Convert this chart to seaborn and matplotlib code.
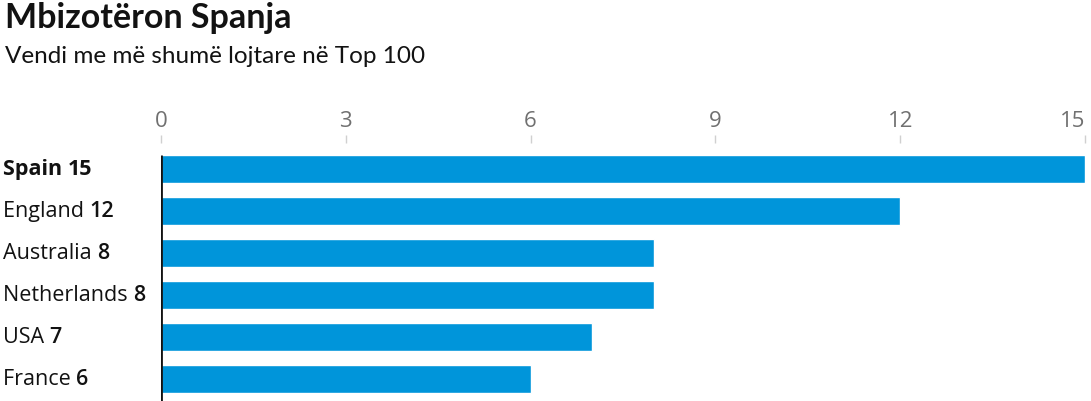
import matplotlib
matplotlib.use("Agg")
import matplotlib.pyplot as plt
import matplotlib.transforms as mtransforms
import seaborn as sns
import pandas as pd

countries = ["Spain", "England", "Australia", "Netherlands", "USA", "France"]
players = [15, 12, 8, 8, 7, 6]
xticks = [0, 3, 6, 9, 12, 15]

df = pd.DataFrame({"country": countries, "players": players})

sns.set_theme(style="white")
plt.rcParams["font.family"] = ["Open Sans", "DejaVu Sans"]

fig = plt.figure(figsize=(10.91, 4.01), dpi=100)
ax = fig.add_axes([161 / 1091, 0.0, (1085 - 161) / 1091, 1 - 143 / 401])

sns.barplot(data=df, x="players", y="country", orient="h", color="#0095da",
            width=0.65, saturation=1, ax=ax)

ax.set_xlim(0, 15)
ax.set_ylim(5.52, -0.62)
ax.xaxis.tick_top()
ax.set_xticks(xticks)
labels = ax.set_xticklabels([str(t) for t in xticks], fontsize=16, color="#707070")
labels[-1].set_horizontalalignment("right")
ax.tick_params(axis="x", length=6, width=1, color="#d0d0d0", pad=2, top=True, bottom=False)
ax.set_xlabel("")
ax.set_ylabel("")
ax.set_yticks([])
for s in ax.spines.values():
    s.set_visible(False)
ax.vlines(0, -0.33, 5.52, color="#121212", lw=2, zorder=5)

# country name + count, count a bit heavier
renderer = fig.canvas.get_renderer()
trans = mtransforms.blended_transform_factory(fig.transFigure, ax.transData)
for i, (c, v) in enumerate(zip(countries, players)):
    name = ax.text(3 / 1091, i, f"{c} ", transform=trans, ha="left", va="center",
                   fontsize=15.5, color="#121212", fontweight="bold" if i == 0 else "normal")
    bb = name.get_window_extent(renderer)
    ax.text(bb.x1 / fig.bbox.width, i, str(v), transform=trans, ha="left", va="center",
            fontsize=15.5, color="#121212", fontweight="bold" if i == 0 else "semibold")

fig.text(5 / 1091, 1 - 2 / 401, "Mbizotëron Spanja", fontsize=24.5, fontweight="bold",
         family=["Lato", "DejaVu Sans"], ha="left", va="top", color="#121212")
fig.text(5 / 1091, 1 - 46 / 401, "Vendi me më shumë lojtare në Top 100", fontsize=17.5,
         family=["Lato", "DejaVu Sans"], ha="left", va="top", color="#121212")

fig.savefig("out.png", dpi=100)
